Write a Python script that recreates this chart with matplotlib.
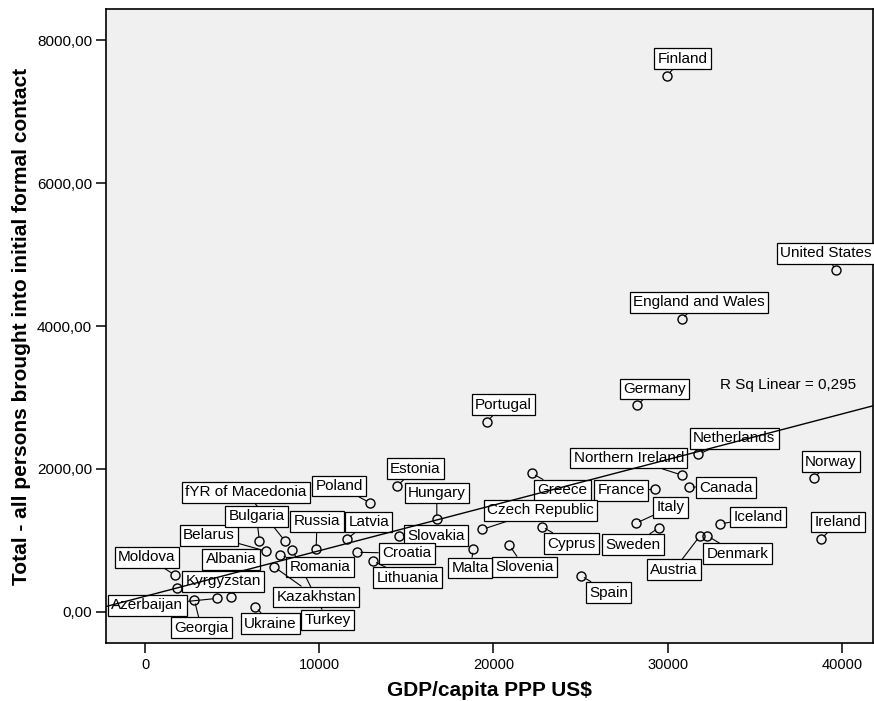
import numpy as np
import matplotlib
matplotlib.use("Agg")
from matplotlib import pyplot as plt
from matplotlib.ticker import FuncFormatter

plt.rcParams['font.family'] = ['Liberation Sans', 'DejaVu Sans']

# countries, GDP per capita (PPP US$) and persons brought into initial formal contact
countries = ["Finland", "United States", "England and Wales", "Germany", "Portugal",
             "Netherlands", "Northern Ireland", "Canada", "France", "Italy",
             "Sweden", "Iceland", "Austria", "Denmark", "Norway",
             "Ireland", "Spain", "Greece", "Cyprus", "Slovenia",
             "Malta", "Czech Republic", "Hungary", "Estonia", "Slovakia",
             "Poland", "Latvia", "Croatia", "Lithuania", "Russia",
             "Turkey", "fYR of Macedonia", "Romania", "Kazakhstan", "Belarus",
             "Bulgaria", "Ukraine", "Albania", "Azerbaijan", "Georgia",
             "Kyrgyzstan", "Moldova"]
gdp = [29950, 39650, 30810, 28260, 19610,
       31760, 30810, 31230, 29280, 28170,
       29520, 33010, 31860, 32280, 38400,
       38810, 25010, 22200, 22770, 20910,
       18850, 19360, 16750, 14480, 14580,
       12920, 11580, 12150, 13070, 9820,
       8460, 8040, 7750, 7420, 6950,
       6570, 6340, 4940, 4150, 2830,
       1850, 1720]
persons = [7500, 4780, 4095, 2895, 2660,
           2205, 1915, 1750, 1715, 1240,
           1180, 1230, 1065, 1065, 1880,
           1020, 510, 1940, 1195, 935,
           880, 1155, 1300, 1765, 1065,
           1525, 1020, 835, 715, 875,
           865, 990, 795, 630, 850,
           990, 75, 205, 190, 170,
           330, 515]

# label box offsets from each point (pixels, y up)
label_offsets = [(16, 17), (-10, 17), (17, 17), (17, 16), (17, 17),
                 (36, 16), (-53, 17), (37, -1), (-34, -1), (35, 16),
                 (-26, -17), (38, 7), (-26, -34), (30, -18), (17, 16),
                 (17, 17), (28, -17), (31, -17), (30, -17), (15, -22),
                 (-3, -19), (58, 19), (0, 26), (18, 17), (37, 0),
                 (-31, 17), (22, 17), (50, -1), (35, -17), (1, 28),
                 (35, -70), (-39, 49), (40, -12), (42, -30), (-57, 16),
                 (-3, 25), (15, -17), (0, 38), (-70, -7), (7, -28),
                 (46, 7), (-28, 18)]

r_sq_text = "R Sq Linear = 0,295"

fig = plt.figure(figsize=(8.74, 7.01), dpi=100)
ax = fig.add_axes([106 / 874, (701 - 643) / 701, (873 - 106) / 874, (643 - 9) / 701])
ax.set_facecolor("#f0f0f0")

ax.plot(gdp, persons, linestyle="none", marker="o", markersize=6.5,
        markerfacecolor="none", markeredgecolor="black", markeredgewidth=1.0, zorder=2)

# labels with connector lines
for name, x, y, off in zip(countries, gdp, persons, label_offsets):
    ax.annotate(name, xy=(x, y), xytext=off, textcoords="offset pixels",
                ha="center", va="center", fontsize=11, zorder=3,
                bbox=dict(boxstyle="square,pad=0.22", fc="white", ec="black", lw=0.9),
                arrowprops=dict(arrowstyle="-", color="black", lw=0.8,
                                shrinkA=0, shrinkB=3))

# linear fit line
xlim = (-2240, 41790)
slope, intercept = np.polyfit(gdp, persons, 1)
xs = np.array(xlim)
ax.plot(xs, slope * xs + intercept, color="black", lw=1.0, zorder=4)
ax.text(0.80, 0.407, r_sq_text, transform=ax.transAxes, fontsize=11, va="center")

ax.set_xlim(xlim)
ax.set_ylim(-434, 8434)
ax.set_xticks([0, 10000, 20000, 30000, 40000])
ax.set_yticks([0, 2000, 4000, 6000, 8000])
ax.yaxis.set_major_formatter(FuncFormatter(lambda v, p: f"{v:.2f}".replace(".", ",")))
ax.xaxis.set_major_formatter(FuncFormatter(lambda v, p: f"{v:.0f}"))
ax.tick_params(axis="both", direction="out", length=7, width=1.1, color="black")
ax.tick_params(axis="x", labelsize=10.5, pad=4)
ax.tick_params(axis="y", labelsize=11, pad=3)
for s in ax.spines.values():
    s.set_linewidth(1.2)
    s.set_color("black")

ax.set_xlabel("GDP/capita PPP US$", fontsize=15, fontweight="bold", labelpad=6)
ax.set_ylabel("Total - all persons brought into initial formal contact",
              fontsize=15, fontweight="bold", labelpad=4)

fig.savefig("out.png", dpi=100)
